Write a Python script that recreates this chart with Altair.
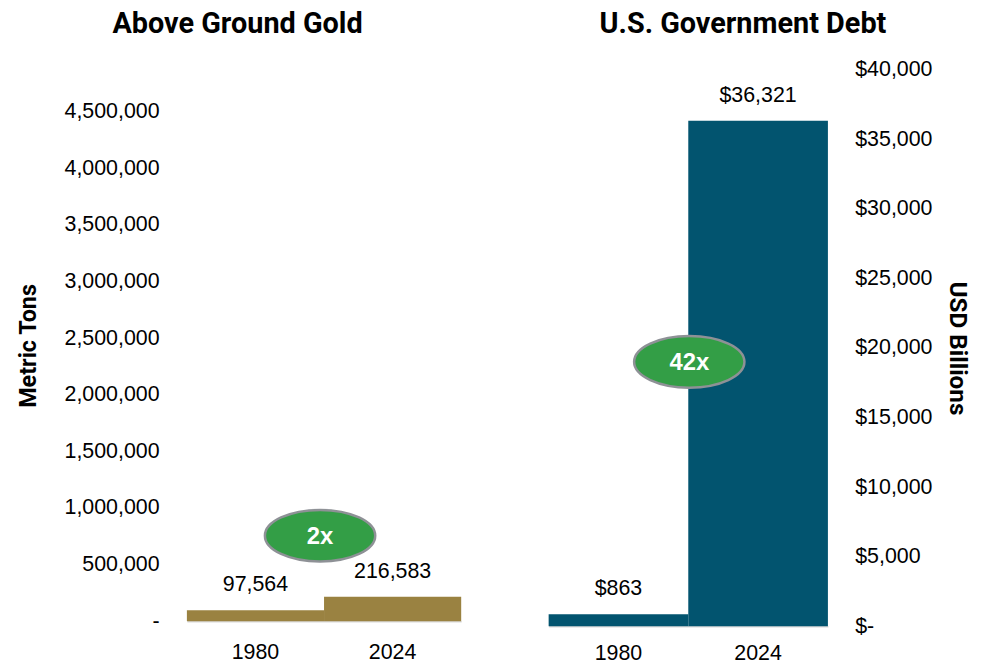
import altair as alt
import pandas as pd

# ---- data ----
years = ["1980", "2024"]
gold_tons = [97564, 216583]
gold_labels = ["97,564", "216,583"]
debt_billions = [863, 36321]
debt_labels = ["$863", "$36,321"]
gold_ticks = [0, 500000, 1000000, 1500000, 2000000, 2500000, 3000000, 3500000, 4000000, 4500000]
debt_ticks = [0, 5000, 10000, 15000, 20000, 25000, 30000, 35000, 40000]
ratio_labels = ["2x", "42x"]
badge_year = ["2024"]
gold_badge_level = [755000]
debt_badge_level = [19000]

GOLD = "#9A8241"
NAVY = "#02546F"
GREEN = "#339E46"
RING = "#8E9196"
LABEL_FONT = "Liberation Sans"
TITLE_FONT = "Roboto"
FS = 21.5

gold_df = pd.DataFrame({"year": years, "value": gold_tons, "label": gold_labels})
debt_df = pd.DataFrame({"year": years, "value": debt_billions, "label": debt_labels})
gold_badge = pd.DataFrame({"year": badge_year, "value": gold_badge_level, "label": ratio_labels[:1]})
debt_badge = pd.DataFrame({"year": badge_year, "value": debt_badge_level, "label": ratio_labels[1:]})

r = 0.468
c = 0.5523
ellipse = (f"M -1 0 C -1 {-r*c} {-c} {-r} 0 {-r} C {c} {-r} 1 {-r*c} 1 0 "
           f"C 1 {r*c} {c} {r} 0 {r} C {-c} {r} -1 {r*c} -1 0 Z")


def x_axis(pad):
    return alt.Axis(title=None, labelAngle=0, ticks=False, domain=True,
                    domainColor="#d9d9d9", domainWidth=1.5, labelPadding=pad,
                    labelFont=LABEL_FONT, labelFontSize=FS, labelColor="black")


def panel(df, badge, color, y_scale, y_axis, w, h, title, title_dx, title_offset, badge_dx, xpad):
    x = alt.X("year:N", sort=years, scale=alt.Scale(paddingInner=0, paddingOuter=0), axis=x_axis(xpad))
    y = alt.Y("value:Q", scale=y_scale, axis=y_axis)
    bars = alt.Chart(df).mark_bar(color=color).encode(x=x, y=y)
    vals = alt.Chart(df).mark_text(font=LABEL_FONT, fontSize=FS, color="black",
                                   baseline="alphabetic", dy=-19).encode(
        x=alt.X("year:N", sort=years), y="value:Q", text="label:N")
    bx = alt.X("year:N", sort=years, bandPosition=0)
    dot = alt.Chart(badge).mark_point(shape=ellipse, size=111 * 111, filled=True, fill=GREEN,
                                      stroke=RING, strokeWidth=2.5, opacity=1,
                                      xOffset=badge_dx).encode(x=bx, y="value:Q")
    txt = alt.Chart(badge).mark_text(font=LABEL_FONT, fontWeight="bold", fontSize=24, color="white",
                                     baseline="middle", xOffset=badge_dx, dy=1).encode(
        x=bx, y="value:Q", text="label:N")
    return alt.layer(bars, vals, dot, txt).properties(
        width=w, height=h,
        title=alt.TitleParams(title, font=TITLE_FONT, fontSize=29, fontWeight="bold", color="black",
                              anchor="middle", frame="group", offset=title_offset, dx=title_dx))


gold_axis = alt.Axis(values=gold_ticks, title="Metric Tons", grid=False, domain=False, ticks=False,
                     labelPadding=28, labelExpr="datum.value == 0 ? '-\u00a0' : format(datum.value, ',')",
                     labelFont=LABEL_FONT, labelFontSize=FS, labelColor="black",
                     titleFont=TITLE_FONT, titleFontWeight="bold", titleFontSize=23.5,
                     titleColor="black", titlePadding=24)
debt_axis = alt.Axis(values=debt_ticks, orient="right", title="USD Billions", grid=False, domain=False,
                     ticks=False, labelPadding=27,
                     labelExpr="datum.value == 0 ? '$-' : '$' + format(datum.value, ',')",
                     labelFont=LABEL_FONT, labelFontSize=FS, labelColor="black",
                     titleFont=TITLE_FONT, titleFontWeight="bold", titleFontSize=24.5,
                     titleColor="black", titlePadding=13)

left = panel(gold_df, gold_badge, GOLD, alt.Scale(domain=[0, 4870000], nice=False), gold_axis,
             276, 555, "Above Ground Gold", -87, 31, -4, 20)
right = panel(debt_df, debt_badge, NAVY, alt.Scale(domain=[0, 40000], nice=False), debt_axis,
              281, 560, "U.S. Government Debt", 55, 20, 1, 17)

chart = alt.hconcat(left, right, spacing=88).properties(
    padding={"left": 8, "top": 0, "right": 5, "bottom": 0}
).configure_view(stroke=None)

chart.save("out.html", embed_options={"renderer": "svg", "actions": False})
